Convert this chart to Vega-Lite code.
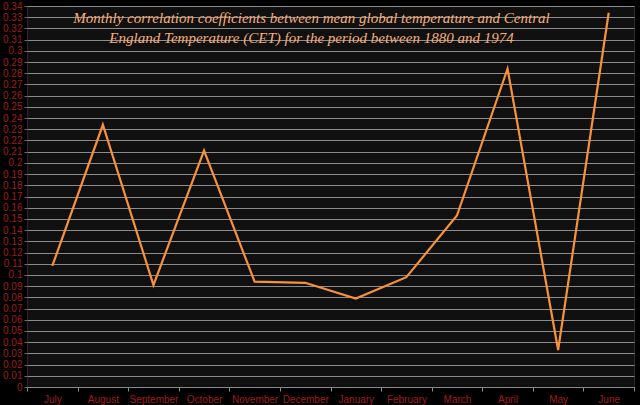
{
  "$schema": "https://vega.github.io/schema/vega-lite/v6.json",
  "description": "Monthly correlation coefficients between mean global temperature and CET, 1880-1974.",
  "width": 607,
  "height": 381,
  "autosize": {"type": "none"},
  "padding": {"left": 27, "top": 6, "right": 6, "bottom": 18},
  "background": "#000000",
  "title": {
    "text": [
      "Monthly correlation coefficients between mean global temperature and Central",
      "England Temperature (CET) for the period between 1880 and 1974"
    ],
    "orient": "top",
    "anchor": "middle",
    "offset": -45,
    "dx": -19,
    "font": "Liberation Serif",
    "fontStyle": "italic",
    "fontWeight": "normal",
    "fontSize": 15,
    "lineHeight": 20,
    "color": "#f7ad78"
  },
  "config": {
    "view": {"fill": "#101010", "stroke": "#2a2a2a", "strokeWidth": 1}
  },
  "data": {
    "values": [
      {"Month": "July", "Correlation": 0.108},
      {"Month": "August", "Correlation": 0.234},
      {"Month": "September", "Correlation": 0.091},
      {"Month": "October", "Correlation": 0.211},
      {"Month": "November", "Correlation": 0.094},
      {"Month": "December", "Correlation": 0.093},
      {"Month": "January", "Correlation": 0.079},
      {"Month": "February", "Correlation": 0.098},
      {"Month": "March", "Correlation": 0.153},
      {"Month": "April", "Correlation": 0.284},
      {"Month": "May", "Correlation": 0.033},
      {"Month": "June", "Correlation": 0.334}
    ]
  },
  "mark": {"type": "line", "color": "#f7923a", "strokeWidth": 2.2},
  "encoding": {
    "x": {
      "field": "Month",
      "type": "ordinal",
      "sort": null,
      "scale": {"type": "band", "paddingInner": 0, "paddingOuter": 0},
      "axis": {
        "title": null,
        "labelAngle": 0,
        "labelFont": "Liberation Sans",
        "labelFontSize": 10,
        "labelColor": "#a01c1c",
        "labelPadding": 3,
        "tickBand": "extent",
        "tickColor": "#8a8a8a",
        "tickSize": 4,
        "domainColor": "#8a8a8a",
        "grid": false
      }
    },
    "y": {
      "field": "Correlation",
      "type": "quantitative",
      "scale": {"domain": [0, 0.34], "nice": false},
      "axis": {
        "title": null,
        "values": [0, 0.01, 0.02, 0.03, 0.04, 0.05, 0.06, 0.07, 0.08, 0.09, 0.1, 0.11, 0.12, 0.13, 0.14, 0.15, 0.16, 0.17, 0.18, 0.19, 0.2, 0.21, 0.22, 0.23, 0.24, 0.25, 0.26, 0.27, 0.28, 0.29, 0.3, 0.31, 0.32, 0.33, 0.34],
        "format": "~g",
        "labelFont": "Liberation Sans",
        "labelFontSize": 10,
        "labelColor": "#a01c1c",
        "labelPadding": 2,
        "tickColor": "#6a6a6a",
        "tickSize": 3,
        "domain": false,
        "grid": true,
        "gridColor": "#8c8c8c",
        "gridWidth": 1.2
      }
    }
  }
}
